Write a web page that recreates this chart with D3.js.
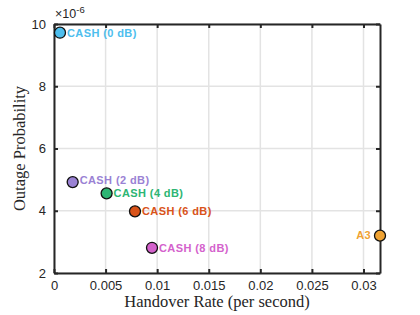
<!DOCTYPE html>
<meta charset="utf-8">
<style>
  body { margin: 0; background: #fff; }
  svg text { fill: #262626; }
  .tick text { font-family: "Liberation Sans", Arial, sans-serif; font-size: 13px; }
  .title { font-family: "Liberation Serif", "DejaVu Serif", serif; font-size: 16.5px; }
  .lbl { font-family: "Liberation Sans", Arial, sans-serif; font-size: 11px; font-weight: bold; letter-spacing: 0.4px; }
</style>
<svg width="420" height="315"></svg>
<script src="https://d3js.org/d3.v7.min.js"></script>
<script>
  // data
  var names = ['CASH (0 dB)', 'CASH (2 dB)', 'CASH (4 dB)', 'CASH (6 dB)', 'CASH (8 dB)', 'A3']
  var rate = [0.00058, 0.00181, 0.00510, 0.00785, 0.00950, 0.0316]
  var outage = [9.72, 4.92, 4.56, 3.98, 2.81, 3.20]   // x 1e-6
  var colors = ['#4DBEEE', '#9A82D4', '#2DB573', '#D95319', '#D462CC', '#EFA233']
  var xTicks = [0, 0.005, 0.01, 0.015, 0.02, 0.025, 0.03]
  var yTicks = [2, 4, 6, 8, 10]

  var data = names.map(function (n, i) {
    return { name: n, x: rate[i], y: outage[i], c: colors[i] }
  })

  var svg = d3.select('svg'),
    margin = { top: 24, right: 40, bottom: 42, left: 54 },
    width = +svg.attr('width') - margin.left - margin.right,
    height = +svg.attr('height') - margin.top - margin.bottom,
    g = svg.append('g').attr('transform', 'translate(' + margin.left + ',' + margin.top + ')')

  var x = d3.scaleLinear().domain([0, d3.max(rate)]).range([0, width]),
    y = d3.scaleLinear().domain([2, 10]).range([height, 0])

  // grid
  g.append('g').selectAll('line').data(xTicks).enter().append('line')
    .attr('x1', d => x(d)).attr('x2', d => x(d))
    .attr('y1', 0).attr('y2', height)
    .attr('stroke', '#e3e3e3').attr('stroke-width', 1.5)
  g.append('g').selectAll('line').data(yTicks).enter().append('line')
    .attr('y1', d => y(d)).attr('y2', d => y(d))
    .attr('x1', 0).attr('x2', width)
    .attr('stroke', '#e3e3e3').attr('stroke-width', 1.5)

  var fmt = d3.format('~g')
  var axes = [
    [d3.axisBottom(x).tickValues(xTicks).tickFormat(fmt).tickSizeInner(-4).tickSizeOuter(0).tickPadding(8), 'translate(0,' + height + ')'],
    [d3.axisTop(x).tickValues(xTicks).tickFormat('').tickSizeInner(-4).tickSizeOuter(0), 'translate(0,0)'],
    [d3.axisLeft(y).tickValues(yTicks).tickFormat(fmt).tickSizeInner(-4).tickSizeOuter(0).tickPadding(8), 'translate(0,0)'],
    [d3.axisRight(y).tickValues(yTicks).tickFormat('').tickSizeInner(-4).tickSizeOuter(0), 'translate(' + width + ',0)']
  ]
  axes.forEach(function (a) {
    var ax = g.append('g').attr('transform', a[1]).call(a[0])
    ax.select('.domain').attr('stroke', '#262626').attr('stroke-width', 2)
    ax.selectAll('.tick line').attr('stroke', '#262626').attr('stroke-width', 2)
  })

  // exponent
  var ex = g.append('text').attr('x', 1).attr('y', -6)
    .style('font-family', '"Liberation Sans", Arial, sans-serif').style('font-size', '12.5px')
  ex.append('tspan').text('\u00d710')
  ex.append('tspan').attr('dy', -5).style('font-size', '9.5px').text('-6')

  // axis titles
  svg.append('text').attr('class', 'title')
    .attr('x', margin.left + width / 2).attr('y', 307)
    .attr('text-anchor', 'middle').text('Handover Rate (per second)')
  svg.append('text').attr('class', 'title')
    .attr('transform', 'translate(25,' + (margin.top + height / 2) + ') rotate(-90)')
    .attr('text-anchor', 'middle').text('Outage Probability')

  // points
  var pts = g.append('g').selectAll('g').data(data).enter().append('g')
  pts.append('circle')
    .attr('cx', d => x(d.x)).attr('cy', d => y(d.y)).attr('r', 5.5)
    .attr('fill', d => d.c).attr('stroke', '#111').attr('stroke-width', 1.3)
  pts.append('text').attr('class', 'lbl')
    .attr('x', d => d.name === 'A3' ? x(d.x) - 9 : x(d.x) + 7)
    .attr('y', d => y(d.y))
    .attr('dy', d => d.name === 'CASH (2 dB)' ? 2 : 3.8)
    .attr('text-anchor', d => d.name === 'A3' ? 'end' : 'start')
    .style('fill', d => d.c)
    .text(d => d.name)
</script>
